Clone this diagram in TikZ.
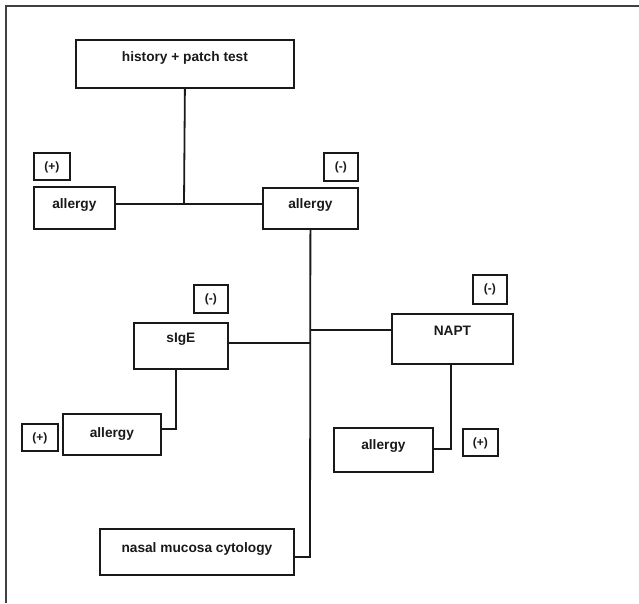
\documentclass[tikz,border=0pt]{standalone}
\usepackage{fontspec}
\setmainfont{Liberation Sans}
\begin{document}
\begin{tikzpicture}[x=1pt,y=1pt,
  box/.style={draw=black!90, line width=1.8pt, inner sep=0pt, anchor=north west,
    font=\bfseries\fontsize{13.7}{15}\selectfont, text=black!90},
  sbox/.style={box, font=\bfseries\fontsize{12}{14}\selectfont},
  conn/.style={draw=black!90, line width=1.8pt}]
\useasboundingbox (0,0) rectangle (639,-603);
\draw[black!75, line width=1.2pt] (6,-603) -- (6,-6) -- (639,-6);
% boxes
\node[box, minimum width=218, text height=22, text depth=26] (hist) at (75,-39) {history + patch test};
\node[sbox, minimum width=36, text height=18, text depth=9] (pL) at (33,-152) {(+)};
\node[box, minimum width=81, text height=22, text depth=20] (aL) at (33,-186) {allergy};
\node[sbox, minimum width=34, text height=18, text depth=10] (mM) at (323,-152) {(-)};
\node[box, minimum width=95, text height=21, text depth=20] (aM) at (262,-187) {allergy};
\node[sbox, minimum width=34, text height=18, text depth=10] (mS) at (193,-284) {(-)};
\node[box, minimum width=94, text height=20, text depth=26] (sige) at (133,-322) {sIgE};
\node[sbox, minimum width=34, text height=18, text depth=11] (mN) at (472,-274) {(-)};
\node[box, minimum width=121, text height=22, text depth=28] (napt) at (391,-313) {NAPT};
\node[sbox, minimum width=36, text height=18, text depth=9] (pBL) at (21,-423) {(+)};
\node[box, minimum width=98, text height=24, text depth=17] (aBL) at (62,-413) {allergy};
\node[box, minimum width=99, text height=22, text depth=22] (aR) at (333,-427) {allergy};
\node[sbox, minimum width=35, text height=18, text depth=9] (pR) at (462,-428) {(+)};
\node[box, minimum width=194, text height=24, text depth=22] (nas) at (99,-528) {nasal mucosa cytology};
% junction coordinates
\coordinate (j) at (184,-204);
\coordinate (m) at (310,-557);
\coordinate (js) at (310,-343);
\coordinate (jn) at (310,-330);
\coordinate (ks) at (176,-429);
\coordinate (kn) at (451,-449);
% connectors
\draw[conn] (hist.south) -- (j);
\draw[conn] (aL.east |- j) -- (aM.west |- j);
\draw[conn] (aM.south) -- (m) -- (nas.east |- m);
\draw[conn] (sige.east |- js) -- (js);
\draw[conn] (jn) -- (napt.west |- jn);
\draw[conn] (sige.south -| ks) -- (ks) -- (aBL.east |- ks);
\draw[conn] (napt.south -| kn) -- (kn) -- (aR.east |- kn);
\end{tikzpicture}
\end{document}
